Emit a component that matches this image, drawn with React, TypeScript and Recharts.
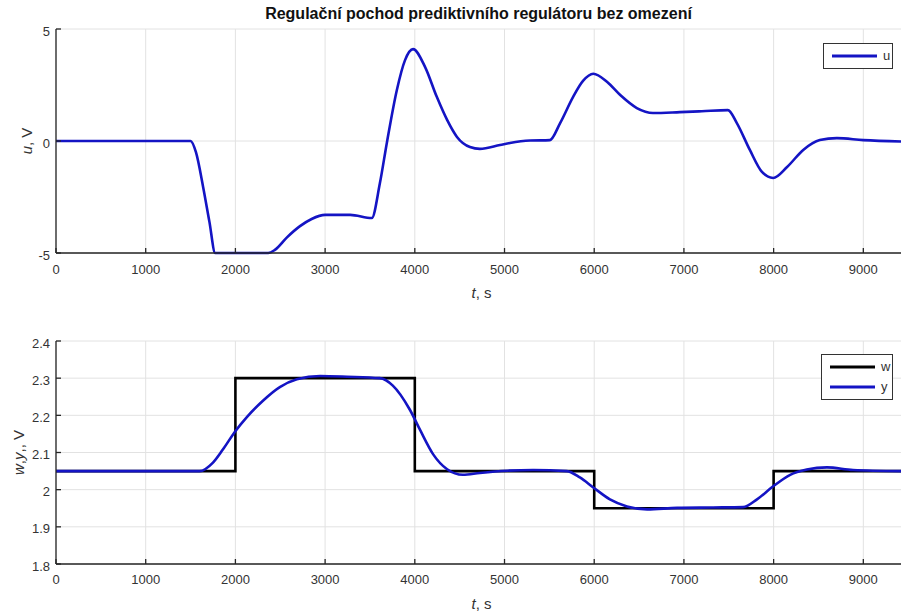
import React from "react";
import { LineChart, Line, XAxis, YAxis, CartesianGrid, Label } from "recharts";

// u(t) – akční zásah regulátoru
const uTime = [
  0, 1000, 1500, 1560, 1640, 1710, 1775, 2000, 2365, 2440, 2575, 2720, 2850, 3000, 3280, 3520,
  3610, 3690, 3800, 3890, 3980, 4115, 4245, 4360, 4470, 4615, 4725, 4950, 5060, 5285, 5505,
  5620, 5765, 5875, 5990, 6145, 6290, 6475, 6655, 6955, 7200, 7490, 7590, 7735, 7870, 7995,
  8150, 8330, 8515, 8705, 9000, 9420,
];
const uValue = [
  0, 0, 0, -0.5, -2.05, -3.6, -5, -5, -5, -4.86, -4.3, -3.8, -3.48, -3.3, -3.3, -3.44,
  -1.9, -0.04, 2.28, 3.6, 4.1, 3.3, 1.97, 0.94, 0.18, -0.27, -0.35, -0.18, -0.09, 0.02, 0.04,
  0.8, 1.97, 2.68, 3.0, 2.63, 2.05, 1.47, 1.25, 1.29, 1.33, 1.38, 0.8, -0.4, -1.38, -1.65,
  -1.16, -0.4, 0.04, 0.13, 0.04, -0.02,
];

// w(t) – žádaná hodnota
const wTime = [0, 2000, 4000, 6000, 8000, 9420];
const wValue = [2.05, 2.3, 2.05, 1.95, 2.05, 2.05];

// y(t) – regulovaná veličina
const yTime = [
  0, 1000, 1600, 1750, 1860, 1995, 2130, 2310, 2495, 2685, 2945, 3245, 3610, 3755, 3945,
  4060, 4205, 4360, 4535, 4725, 5030, 5320, 5695, 5840, 5990, 6175, 6365, 6590, 6925, 7325,
  7660, 7815, 7995, 8185, 8370, 8595, 8885, 9420,
];
const yValue = [
  2.05, 2.05, 2.05, 2.073, 2.108, 2.156, 2.196, 2.24, 2.276, 2.297, 2.306, 2.304, 2.3, 2.28,
  2.215, 2.16, 2.095, 2.055, 2.04, 2.045, 2.051, 2.053, 2.05, 2.033, 2.006, 1.974, 1.955,
  1.947, 1.951, 1.952, 1.953, 1.974, 2.009, 2.04, 2.054, 2.06, 2.053, 2.05,
];

const xTicks = [0, 1000, 2000, 3000, 4000, 5000, 6000, 7000, 8000, 9000];
const uTicks = [-5, 0, 5];
const wyTicks = [1.8, 1.9, 2, 2.1, 2.2, 2.3, 2.4];

const uData = uTime.map((t, i) => ({ t, u: uValue[i] }));
const wData = wTime.map((t, i) => ({ t, w: wValue[i] }));
const yData = yTime.map((t, i) => ({ t, y: yValue[i] }));

const FONT = "'Liberation Sans', Arial, sans-serif";
const AXIS = "#262626";
const GRID = "#e2e2e2";
const BLUE = "#1414c4";
const tickStyle = { fontSize: 13, fill: "#333", fontFamily: FONT };

function TLabel({ viewBox, baseline }: any) {
  const cx = viewBox.x + viewBox.width / 2 + 3;
  return (
    <text x={cx} y={baseline} textAnchor="middle" fontSize={15} fill="#333" fontFamily={FONT}>
      <tspan fontStyle="italic">t</tspan>
      <tspan>, s</tspan>
    </text>
  );
}

function YLabel({ viewBox, bx, parts }: any) {
  const cy = viewBox.y + viewBox.height / 2;
  return (
    <text
      transform={`translate(${bx},${cy}) rotate(-90)`}
      textAnchor="middle"
      fontSize={15}
      fill="#333"
      fontFamily={FONT}
    >
      {parts.map((p: [string, boolean], i: number) => (
        <tspan key={i} fontStyle={p[1] ? "italic" : "normal"}>
          {p[0]}
        </tspan>
      ))}
    </text>
  );
}

function LegendBox({ items, width, left, top }: { items: { name: string; color: string }[]; width: number; left: number; top: number }) {
  const rowH = 20;
  const h = items.length * rowH + 6;
  return (
    <svg width={width} height={h} style={{ position: "absolute", left, top, display: "block" }}>
      <rect x={0.5} y={0.5} width={width - 1} height={h - 1} fill="#fff" stroke="#333" strokeWidth={1} />
      {items.map((it, i) => {
        const cy = 3 + rowH / 2 + i * rowH;
        return (
          <g key={it.name}>
            <line x1={9} x2={54} y1={cy} y2={cy} stroke={it.color} strokeWidth={3} />
            <text x={60} y={cy + 4} fontSize={13} fill="#333" fontFamily={FONT}>
              {it.name}
            </text>
          </g>
        );
      })}
    </svg>
  );
}

export default function App() {
  return (
    <div style={{ position: "absolute", left: 0, top: 0, width: 901, height: 615, background: "#fff" }}>
      <div
        style={{
          position: "absolute",
          left: 56,
          width: 845,
          top: 5,
          textAlign: "center",
          fontFamily: FONT,
          fontWeight: "bold",
          fontSize: 16,
          color: "#111",
        }}
      >
        Regulační pochod prediktivního regulátoru bez omezení
      </div>

      <div style={{ position: "absolute", left: 0, top: 0 }}>
        <LineChart width={901} height={300} margin={{ top: 29, right: 0, bottom: 0, left: 0 }}>
          <CartesianGrid stroke={GRID} strokeWidth={1} verticalValues={xTicks} horizontalValues={uTicks} />
          <XAxis
            type="number"
            dataKey="t"
            domain={[0, 9420]}
            ticks={xTicks}
            allowDataOverflow
            height={47}
            tick={tickStyle}
            tickSize={-5}
            tickMargin={17}
            stroke={AXIS}
            strokeWidth={1.3}
          >
            <Label content={(p: any) => <TLabel {...p} baseline={298} />} />
          </XAxis>
          <XAxis
            xAxisId="top"
            orientation="top"
            type="number"
            domain={[0, 9420]}
            ticks={xTicks}
            height={0}
            tick={false}
            tickSize={-5}
            stroke={AXIS}
            strokeWidth={1.3}
          />
          <YAxis
            type="number"
            domain={[-5, 5]}
            ticks={uTicks}
            width={56}
            tick={{ ...tickStyle, dy: 2 }}
            tickSize={-5}
            tickMargin={11}
            stroke={AXIS}
            strokeWidth={1.3}
          >
            <Label content={(p: any) => <YLabel {...p} bx={32} parts={[["u", true], [", V", false]]} />} />
          </YAxis>
          <Line
            data={uData}
            dataKey="u"
            name="u"
            type="monotone"
            stroke={BLUE}
            strokeWidth={2.6}
            dot={false}
            isAnimationActive={false}
          />
        </LineChart>
        <LegendBox left={823} top={43} width={70} items={[{ name: "u", color: BLUE }]} />
      </div>

      <div style={{ position: "absolute", left: 0, top: 300 }}>
        <LineChart width={901} height={315} margin={{ top: 41, right: 0, bottom: 0, left: 0 }}>
          <CartesianGrid stroke={GRID} strokeWidth={1} verticalValues={xTicks} horizontalValues={wyTicks} />
          <XAxis
            type="number"
            dataKey="t"
            domain={[0, 9420]}
            ticks={xTicks}
            allowDataOverflow
            height={51}
            tick={tickStyle}
            tickSize={-5}
            tickMargin={16}
            stroke={AXIS}
            strokeWidth={1.3}
          >
            <Label content={(p: any) => <TLabel {...p} baseline={309} />} />
          </XAxis>
          <XAxis
            xAxisId="top"
            orientation="top"
            type="number"
            domain={[0, 9420]}
            ticks={xTicks}
            height={0}
            tick={false}
            tickSize={-5}
            stroke={AXIS}
            strokeWidth={1.3}
          />
          <YAxis
            type="number"
            domain={[1.8, 2.4]}
            ticks={wyTicks}
            width={56}
            tick={{ ...tickStyle, dy: 2 }}
            tickSize={-5}
            tickMargin={11}
            stroke={AXIS}
            strokeWidth={1.3}
          >
            <Label
              content={(p: any) => (
                <YLabel {...p} bx={24} parts={[["w", true], [",", false], ["y", true], [",, V", false]]} />
              )}
            />
          </YAxis>
          <YAxis
            yAxisId="right"
            orientation="right"
            type="number"
            domain={[1.8, 2.4]}
            ticks={wyTicks}
            width={0}
            tick={false}
            tickSize={-5}
            axisLine={false}
            stroke={AXIS}
            strokeWidth={1.3}
          />
          <Line
            data={wData}
            dataKey="w"
            name="w"
            type="stepAfter"
            stroke="#000"
            strokeWidth={2.6}
            dot={false}
            isAnimationActive={false}
          />
          <Line
            data={yData}
            dataKey="y"
            name="y"
            type="monotone"
            stroke={BLUE}
            strokeWidth={2.6}
            dot={false}
            isAnimationActive={false}
          />
        </LineChart>
        <LegendBox
          left={821}
          top={54}
          width={72}
          items={[
            { name: "w", color: "#000" },
            { name: "y", color: BLUE },
          ]}
        />
      </div>
    </div>
  );
}
